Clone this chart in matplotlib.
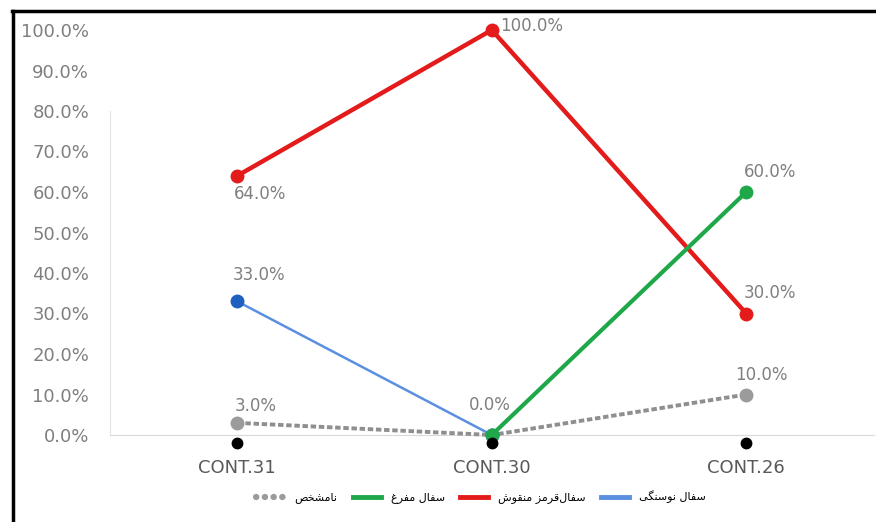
import matplotlib
matplotlib.use("Agg")
import numpy as np
from matplotlib import pyplot as plt
from matplotlib.lines import Line2D

# categories and series (fractions), None = no point
categories = ["CONT.31", "CONT.30", "CONT.26"]
neolithic = [0.33, 0.0, None]        # سفال نوسنگی
painted_red = [0.64, 1.00, 0.30]     # سفال‌قرمز منقوش
bronze = [None, 0.0, 0.60]           # سفال مفرغ
unknown = [0.03, 0.0, 0.10]          # نامشخص
series_names = ["سفال نوسنگی", "سفال‌قرمز منقوش", "سفال مفرغ", "نامشخص"]
yticks = np.arange(0, 1.01, 0.1)


# --- tiny persian shaper (matplotlib has no text shaping) ---
FORMS = {
    "ا": ("\uFE8D", "\uFE8E"), "ر": ("\uFEAD", "\uFEAE"),
    "ز": ("\uFEAF", "\uFEB0"), "و": ("\uFEED", "\uFEEE"),
    "س": ("\uFEB1", "\uFEB2", "\uFEB3", "\uFEB4"),
    "ش": ("\uFEB5", "\uFEB6", "\uFEB7", "\uFEB8"),
    "ص": ("\uFEB9", "\uFEBA", "\uFEBB", "\uFEBC"),
    "خ": ("\uFEA5", "\uFEA6", "\uFEA7", "\uFEA8"),
    "غ": ("\uFECD", "\uFECE", "\uFECF", "\uFED0"),
    "ف": ("\uFED1", "\uFED2", "\uFED3", "\uFED4"),
    "ق": ("\uFED5", "\uFED6", "\uFED7", "\uFED8"),
    "ل": ("\uFEDD", "\uFEDE", "\uFEDF", "\uFEE0"),
    "م": ("\uFEE1", "\uFEE2", "\uFEE3", "\uFEE4"),
    "ن": ("\uFEE5", "\uFEE6", "\uFEE7", "\uFEE8"),
    "گ": ("\uFB92", "\uFB93", "\uFB94", "\uFB95"),
    "ی": ("\uFBFC", "\uFBFD", "\uFBFE", "\uFBFF"),
}


def shape(txt):
    out = []
    for i, c in enumerate(txt):
        if c == "\u200c":
            continue
        if c not in FORMS:
            out.append(c)
            continue
        prev = txt[i - 1] if i > 0 else None
        nxt = txt[i + 1] if i + 1 < len(txt) else None
        jp = prev in FORMS and len(FORMS[prev]) == 4
        jn = len(FORMS[c]) == 4 and nxt in FORMS
        f = FORMS[c]
        if jp and jn:
            out.append(f[3])
        elif jp:
            out.append(f[1])
        elif jn:
            out.append(f[2])
        else:
            out.append(f[0])
    return "".join(reversed(out))


fig = plt.figure(figsize=(8.76, 5.22), dpi=100)
ax = fig.add_axes([110 / 876, 87 / 522, 763.5 / 876, 405 / 522])

x = np.arange(len(categories))
lbl_col = "#7f7f7f"


def draw(vals, lc, mc, lw, ls, labels, z):
    xs = [i for i, v in enumerate(vals) if v is not None]
    ys = [v for v in vals if v is not None]
    ln, = ax.plot(xs, ys, color=lc, lw=lw, ls=ls, marker="o", ms=9,
                  mfc=mc, mec=mc, clip_on=False, zorder=z,
                  solid_capstyle="round")
    for i, v in enumerate(vals):
        if v is None or labels[i] is None:
            continue
        dx, dy = labels[i]
        ax.annotate("%.1f%%" % (v * 100), (i, v), xytext=(dx, dy),
                    textcoords="offset pixels", ha="center", va="center",
                    fontsize=12, color=lbl_col)
    return ln


h_unknown = draw(unknown, "#8f8f8f", "#9b9b9b", 2.8, (0, (1.4, 0.7)),
                 [(18, 17), None, (15, 19)], 3)
h_blue = draw(neolithic, "#5b8fe0", "#1f5fbf", 1.8, "-",
              [(22, 26), (-2, 30), None], 4)
h_red = draw(painted_red, "#e31b1b", "#e31b1b", 3.2, "-",
             [(23, -18), (40, 4), (24, 21)], 5)
h_green = draw(bronze, "#1ea84a", "#1ea84a", 3.0, "-",
               [None, None, (24, 20)], 6)

# black dots under the category axis
ax.plot(x, [-0.02] * len(x), "o", color="black", ms=7.5, clip_on=False, zorder=7)

ax.set_xlim(-0.5, 2.5)
ax.set_ylim(0, 1)
ax.set_yticks(yticks)
ax.set_yticklabels(["%.1f%%" % (t * 100) for t in yticks])
ax.set_xticks(x)
ax.set_xticklabels(categories)
ax.tick_params(axis="y", length=0, pad=15, labelsize=13, labelcolor=lbl_col)
ax.tick_params(axis="x", length=0, pad=17, labelsize=13, labelcolor="#595959")

for s in ["top", "right"]:
    ax.spines[s].set_visible(False)
ax.spines["bottom"].set_color("#d9d9d9")
ax.spines["left"].set_color("#e6e6e6")
ax.spines["left"].set_bounds(0, 0.8)

handles = [h_unknown, h_green, h_red, h_blue]
names = [series_names[3], series_names[2], series_names[1], series_names[0]]
leg_h = []
for h in handles:
    if h is h_unknown:
        leg_h.append(Line2D([], [], color="#9b9b9b", lw=4.5,
                            ls=(0, (0.05, 1.35)), dash_capstyle="round"))
    else:
        leg_h.append(Line2D([], [], color=h.get_color(), lw=3.5))
fig.legend(leg_h, [shape(n) for n in names], loc="center",
           bbox_to_anchor=(481 / 876, 1 - 497 / 522), ncol=4, frameon=False,
           handlelength=2.5, columnspacing=1.4, handletextpad=0.9,
           prop={"family": "DejaVu Sans", "size": 8})

# screenshot frame (black border on left and top)
fig.add_artist(Line2D([13 / 876, 13 / 876], [0, 1 - 11 / 522], color="black",
                      lw=2.5, transform=fig.transFigure))
fig.add_artist(Line2D([12 / 876, 1], [1 - 11 / 522, 1 - 11 / 522],
                      color="black", lw=2.5, transform=fig.transFigure))

fig.savefig("out.png", dpi=100, facecolor="white")
